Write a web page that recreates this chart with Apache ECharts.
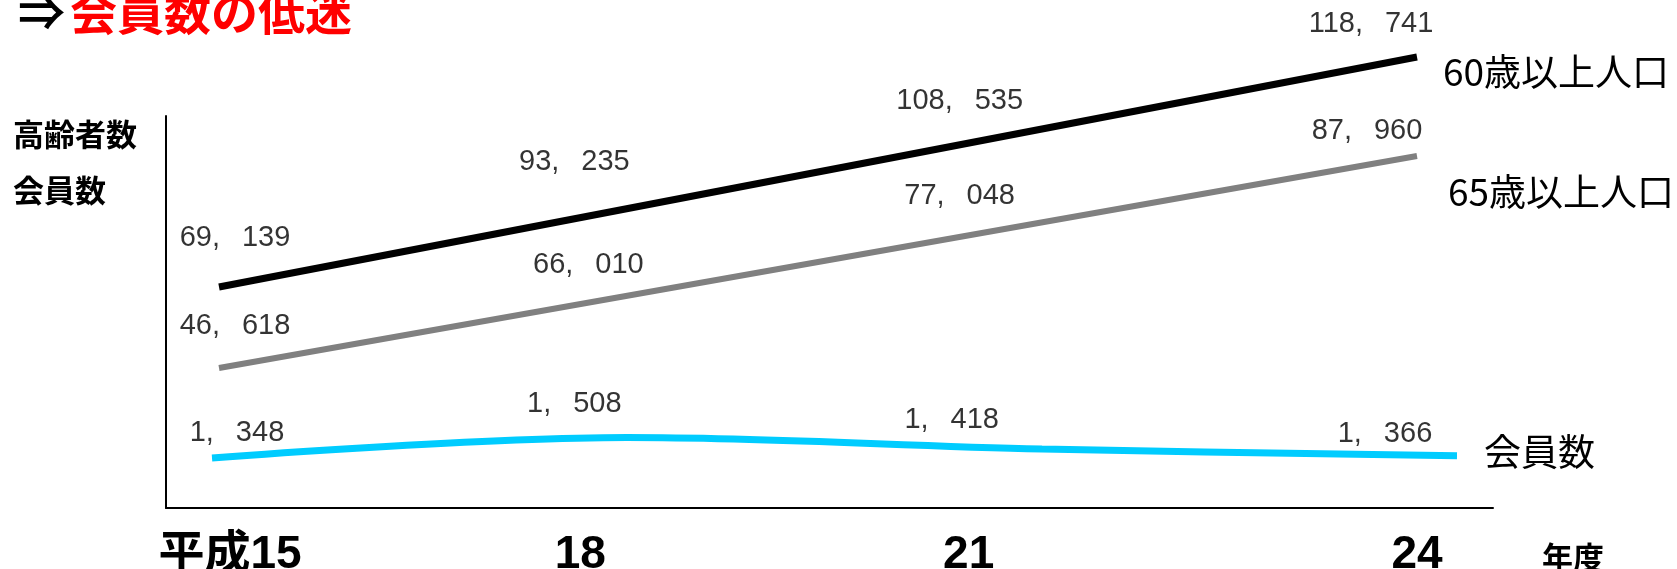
<!DOCTYPE html>
<html>
<head>
<meta charset="utf-8">
<script src="https://cdn.jsdelivr.net/npm/echarts@6/dist/echarts.min.js"></script>
<style>
html,body{margin:0;padding:0;background:#fff;}
#chart{width:1677px;height:569px;}
</style>
</head>
<body>
<div id="chart"></div>
<script>
// ---- data ----
const categories = ['平成15', '18', '21', '24'];
const pop60 = [69139, 93235, 108535, 118741];
const pop65 = [46618, 66010, 77048, 87960];
const members = [1348, 1508, 1418, 1366];
const seriesNames = ['60歳以上人口', '65歳以上人口', '会員数'];
const titleArrow = '⇒';
const titleText = '会員数の低迷';
const yTitles = ['高齢者数', '会員数'];
const xUnit = '年度';

// ---- styling ----
const JP = '"Noto Sans CJK JP"';
const NUM = '"Liberation Sans", "Noto Sans CJK JP"';
const catShift = [[0,0,0,22],[0,76,0,0],[0,98,0,0],[0,0,0,0]];
const off60 = [[16,-49],[-44,-13],[-58,-3],[-46,-33]];
const off65 = [[16,-42],[-30,-4],[-58,-16],[-50,-25]];
const offMem = [[18,-25],[-44,-33],[-66,-29],[-32,-22]];

function fmt(v){
  const s = String(v).replace(/\B(?=(\d{3})+(?!\d))/g, ',');
  return s.split(',').map(p => '{n|' + p + '}').join('{c|, }');
}
const numRich = {
  n: {fontSize: 29, fontFamily: NUM, color: '#000', align: 'left'},
  c: {fontSize: 29, fontFamily: NUM, color: '#000', width: 30, align: 'left'}
};

function endpointsOnly(arr){
  return arr.map((v, i) => (i === 0 || i === arr.length - 1) ? v : null);
}
function labelSeries(arr, offs, yIdx){
  return {
    type: 'scatter', xAxisIndex: 0, yAxisIndex: yIdx, symbolSize: 0, silent: true, z: 5,
    data: arr.map((v, i) => ({value: v, label: {offset: offs[i]}})),
    label: {show: true, position: 'inside', formatter: p => fmt(p.value), rich: numRich}
  };
}
const endLabelStyle = {fontSize: 37, fontFamily: JP, color: '#000'};

const option = {
  animation: false,
  backgroundColor: '#fff',
  grid: [
    {left: 219, right: 260, top: 20, bottom: 61, outerBoundsMode: 'none', containLabel: false},   // main
    {left: 212, right: 220, top: 20, bottom: 61, outerBoundsMode: 'none', containLabel: false},   // members line
    {left: 166, right: 184, top: 116, bottom: 61, outerBoundsMode: 'none', containLabel: false}   // frame
  ],
  xAxis: [
    {type: 'category', gridIndex: 0, boundaryGap: false,
     data: categories.map((c, i) => ({value: c, textStyle: {padding: catShift[i]}})),
     axisLine: {show: false}, axisTick: {show: false}, splitLine: {show: false},
     axisLabel: {margin: 24, fontSize: 46, fontWeight: 'bold', fontFamily: NUM, color: '#000', interval: 0}},
    {type: 'category', gridIndex: 1, boundaryGap: false, data: categories, show: false},
    {type: 'value', gridIndex: 2, min: 0, max: 1,
     axisLine: {show: true, onZero: false, lineStyle: {color: '#000', width: 2}},
     axisTick: {show: false}, axisLabel: {show: false}, splitLine: {show: false},
     name: xUnit, nameLocation: 'end', nameGap: 49,
     nameTextStyle: {fontSize: 31, fontWeight: 'bold', fontFamily: JP, color: '#000', verticalAlign: 'top', padding: [34,0,0,0]}}
  ],
  yAxis: [
    {type: 'value', gridIndex: 0, min: 21478, max: 126721, show: false},
    {type: 'value', gridIndex: 0, min: 19316, max: 114482, show: false},
    {type: 'value', gridIndex: 0, min: 957, max: 4770, show: false},
    {type: 'value', gridIndex: 1, min: 957, max: 4770, show: false},
    {type: 'value', gridIndex: 2, min: 0, max: 1,
     axisLine: {show: true, onZero: false, lineStyle: {color: '#000', width: 2}},
     axisTick: {show: false}, axisLabel: {show: false}, splitLine: {show: false}}
  ],
  graphic: [
    {type: 'text', x: 18, y: 12, style: {text: titleArrow, fill: '#000', font: 'bold 47px ' + JP, verticalAlign: 'middle'}},
    {type: 'text', x: 70, y: 12, style: {text: titleText, fill: '#ff0000', font: 'bold 47px ' + JP, verticalAlign: 'middle'}},
    {type: 'text', x: 13, y: 134, style: {text: yTitles[0], fill: '#000', font: 'bold 31px ' + JP, verticalAlign: 'middle'}},
    {type: 'text', x: 13, y: 190, style: {text: yTitles[1], fill: '#000', font: 'bold 31px ' + JP, verticalAlign: 'middle'}}
  ],
  series: [
    {name: seriesNames[0], type: 'line', xAxisIndex: 0, yAxisIndex: 0,
     data: endpointsOnly(pop60), connectNulls: true, showSymbol: false, symbol: 'none',
     lineStyle: {color: '#000', width: 7, cap: 'butt'}, z: 3,
     endLabel: {show: true, formatter: seriesNames[0], position: 'right', distance: 0, offset: [26, 15], ...endLabelStyle}},
    {name: seriesNames[1], type: 'line', xAxisIndex: 0, yAxisIndex: 1,
     data: endpointsOnly(pop65), connectNulls: true, showSymbol: false, symbol: 'none',
     lineStyle: {color: '#808080', width: 6, cap: 'butt'}, z: 3,
     endLabel: {show: true, formatter: seriesNames[1], position: 'right', distance: 0, offset: [31, 36], ...endLabelStyle}},
    {name: seriesNames[2], type: 'line', xAxisIndex: 1, yAxisIndex: 3,
     data: members, smooth: 0.35, showSymbol: false, symbol: 'none',
     lineStyle: {color: '#00CCFF', width: 7, cap: 'butt'}, z: 3,
     endLabel: {show: true, formatter: seriesNames[2], position: 'right', distance: 0, offset: [27, -4], ...endLabelStyle}},
    labelSeries(pop60, off60, 0),
    labelSeries(pop65, off65, 1),
    labelSeries(members, offMem, 2)
  ]
};

const chart = echarts.init(document.getElementById('chart'), null, {renderer: 'canvas'});
chart.setOption(option);
</script>
</body>
</html>
